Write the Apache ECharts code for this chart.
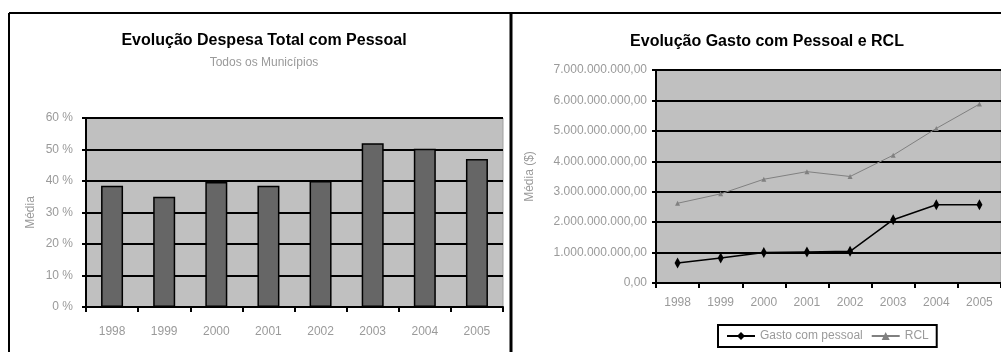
<!DOCTYPE html>
<html lang="pt">
<head>
    <meta charset="UTF-8">
    <title>Evolução Despesa com Pessoal</title>
    <script type="text/javascript" src="https://cdn.jsdelivr.net/npm/echarts@6/dist/echarts.min.js"></script>
    <style>
        html, body { margin: 0; padding: 0; background: #fff; }
    </style>
</head>
<body>
<div id="main" style="width: 1001px;height: 352px;"></div>
<script type="text/javascript">

    // dados
    var anos = ['1998', '1999', '2000', '2001', '2002', '2003', '2004', '2005'];
    var despesaPct = [38.5, 35.0, 39.7, 38.5, 40.0, 52.0, 50.2, 47.0];
    var gastoPessoal = [0.66e9, 0.82e9, 1.0e9, 1.02e9, 1.04e9, 2.08e9, 2.57e9, 2.57e9];
    var rcl = [2.62e9, 2.93e9, 3.41e9, 3.66e9, 3.5e9, 4.2e9, 5.08e9, 5.88e9];

    var cinza = '#9a9a9a';
    var fonte = '"Liberation Sans", Arial, sans-serif';

    // 7000000000 -> 7.000.000.000,00
    function moeda(v) {
        var s = Math.round(v).toString();
        var out = '';
        while (s.length > 3) {
            out = '.' + s.slice(-3) + out;
            s = s.slice(0, -3);
        }
        return s + out + ',00';
    }

    var myChart = echarts.init(document.getElementById('main'));

    var eixoLinha = {show: true, lineStyle: {color: '#000', width: 2}};
    var grade = {show: true, lineStyle: {color: '#000', width: 2}};

    var option = {
        animation: false,
        textStyle: {fontFamily: fonte},

        title: [{
            text: 'Evolução Despesa Total com Pessoal',
            subtext: 'Todos os Municípios',
            left: 259,
            textAlign: 'center',
            top: 28,
            itemGap: 8,
            textStyle: {color: '#000', fontSize: 16, fontWeight: 'bold', fontFamily: fonte},
            subtextStyle: {color: cinza, fontSize: 12, fontFamily: fonte}
        }, {
            text: 'Evolução Gasto com Pessoal e RCL',
            left: 762,
            textAlign: 'center',
            top: 29,
            textStyle: {color: '#000', fontSize: 16, fontWeight: 'bold', fontFamily: fonte}
        }],

        grid: [{
            left: 86, top: 118, width: 417, height: 189,
            show: true, backgroundColor: '#c0c0c0', borderColor: '#a0a0a0', borderWidth: 1
        }, {
            left: 656, top: 70, width: 349, height: 213,
            show: true, backgroundColor: '#c0c0c0', borderColor: '#a0a0a0', borderWidth: 1
        }],

        legend: {
            data: ['Gasto com pessoal', 'RCL'],
            left: 718,
            top: 325,
            padding: [5, 8, 5, 8],
            itemWidth: 28,
            itemHeight: 10,
            itemGap: 8,
            borderColor: '#000',
            borderWidth: 2,
            backgroundColor: '#fff',
            textStyle: {color: cinza, fontSize: 12, fontFamily: fonte}
        },

        xAxis: [{
            type: 'category',
            gridIndex: 0,
            data: anos,
            axisLine: eixoLinha,
            axisTick: {show: true, length: 5, lineStyle: {color: '#000', width: 2}},
            axisLabel: {color: cinza, fontSize: 12, margin: 19}
        }, {
            type: 'category',
            gridIndex: 1,
            data: anos,
            axisLine: eixoLinha,
            axisTick: {show: true, length: 5, lineStyle: {color: '#000', width: 2}},
            axisLabel: {color: cinza, fontSize: 12, margin: 14}
        }],

        yAxis: [{
            type: 'value',
            gridIndex: 0,
            min: 0, max: 60, interval: 10,
            name: 'Média',
            nameLocation: 'middle',
            nameGap: 49,
            nameTextStyle: {color: cinza, fontSize: 12},
            axisLine: eixoLinha,
            axisTick: {show: true, length: 4, lineStyle: {color: '#000', width: 2}},
            axisLabel: {color: cinza, fontSize: 12, margin: 13, formatter: '{value} %'},
            splitLine: grade
        }, {
            type: 'value',
            gridIndex: 1,
            min: 0, max: 7e9, interval: 1e9,
            name: 'Média ($)',
            nameLocation: 'middle',
            nameGap: 120,
            nameTextStyle: {color: cinza, fontSize: 12},
            axisLine: eixoLinha,
            axisTick: {show: true, length: 4, lineStyle: {color: '#000', width: 2}},
            axisLabel: {color: cinza, fontSize: 12, margin: 9, formatter: moeda},
            splitLine: grade
        }],

        series: [{
            name: 'Despesa',
            type: 'bar',
            xAxisIndex: 0,
            yAxisIndex: 0,
            data: despesaPct,
            barWidth: 22,
            itemStyle: {color: '#666666', borderColor: '#000', borderWidth: 1.5}
        }, {
            name: 'Gasto com pessoal',
            type: 'line',
            xAxisIndex: 1,
            yAxisIndex: 1,
            data: gastoPessoal,
            symbol: 'diamond',
            symbolSize: [6, 11],
            lineStyle: {color: '#000', width: 1.5},
            itemStyle: {color: '#000'}
        }, {
            name: 'RCL',
            type: 'line',
            xAxisIndex: 1,
            yAxisIndex: 1,
            data: rcl,
            symbol: 'triangle',
            symbolSize: 5,
            lineStyle: {color: '#808080', width: 1},
            itemStyle: {color: '#808080'}
        }],

        graphic: [
            {type: 'line', shape: {x1: 9, y1: 13, x2: 1001, y2: 13}, style: {stroke: '#000', lineWidth: 2}},
            {type: 'line', shape: {x1: 9, y1: 13, x2: 9, y2: 352}, style: {stroke: '#000', lineWidth: 2}},
            {type: 'line', shape: {x1: 511, y1: 13, x2: 511, y2: 352}, style: {stroke: '#000', lineWidth: 3}}
        ]
    };

    option && myChart.setOption(option);

</script>
</body>
</html>
